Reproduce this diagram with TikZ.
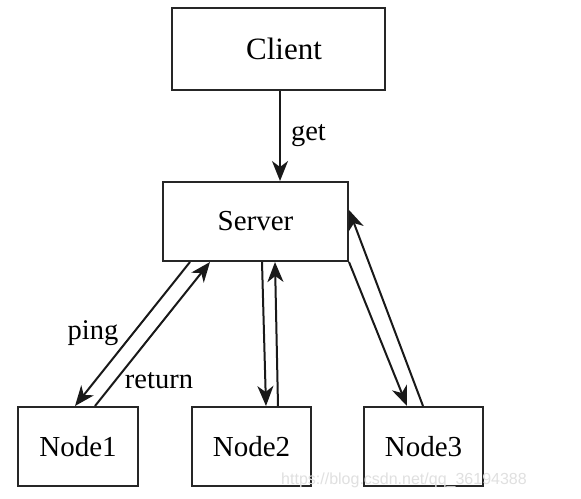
\documentclass[tikz,border=0pt]{standalone}
\usepackage{fontspec}
\setmainfont{Liberation Serif}
\newfontfamily\wmfont{Liberation Sans}
\usetikzlibrary{arrows.meta}
\begin{document}
\begin{tikzpicture}[x=1pt,y=-1pt,
  box/.style={draw=black!85, line width=2pt, rectangle, inner sep=0pt,
    font=\fontsize{29}{34}\selectfont},
  conn/.style={draw=black!90, line width=2pt,
    -{Stealth[length=20pt,width=16pt,inset=6pt]}},
  lbl/.style={font=\fontsize{28.5}{32}\selectfont, inner sep=0pt}]
\useasboundingbox (0,0) rectangle (581,498);
\fill[white] (0,0) rectangle (581,498);
% boxes
\node[box, minimum width=213pt, minimum height=82pt, font=\fontsize{31}{36}\selectfont] (client) at (278.5,49) {\hspace*{11pt}Client};
\node[box, minimum width=185pt, minimum height=79pt] (server) at (255.5,221.5) {Server};
\node[box, minimum width=120pt, minimum height=79pt] (n1) at (78,446.5) {Node1};
\node[box, minimum width=119pt, minimum height=79pt] (n2) at (251.5,446.5) {Node2};
\node[box, minimum width=119pt, minimum height=79pt] (n3) at (423.5,446.5) {Node3};
% get
\draw[conn] ([xshift=1.5pt]client.south) -- ([xshift=24.5pt]server.north)
  node[lbl, midway, right=10pt] (lget) {get};
% node1
\draw[conn] ([xshift=-65.5pt]server.south) -- ([xshift=-3pt]n1.north);
\draw[conn] ([xshift=17pt]n1.north) -- ([xshift=-45.5pt]server.south);
\node[lbl] (lping) at (93,333) {ping};
\node[lbl] (lreturn) at (159,381) {return};
% node2
\draw[conn] ([xshift=6.5pt]server.south) -- ([xshift=14.5pt]n2.north);
\draw[conn] ([xshift=26.5pt]n2.north) -- ([xshift=19.5pt]server.south);
% node3
\draw[conn] (server.south east) -- ([xshift=-16.5pt]n3.north);
\draw[conn] ([xshift=-0.5pt]n3.north) -- ([yshift=11.5pt]server.east);
% watermark
\node[font=\wmfont\fontsize{16}{18}\selectfont, text=black!12, inner sep=0pt]
  (wm) at (404,480) {https://blog.csdn.net/qq\_36194388};
\end{tikzpicture}
\end{document}
